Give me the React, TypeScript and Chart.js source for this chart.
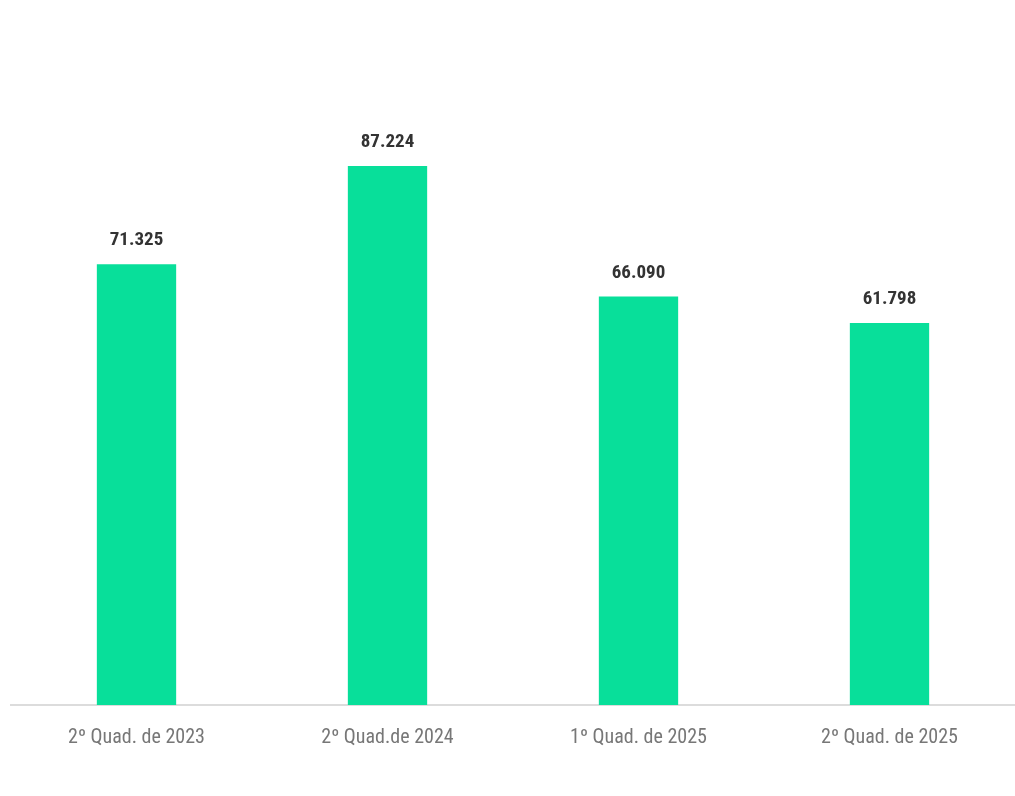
import React, { useEffect, useRef } from "react";
import { Chart, registerables } from "chart.js";

Chart.register(...registerables);

const categories = ["2º Quad. de 2023", "2º Quad.de 2024", "1º Quad. de 2025", "2º Quad. de 2025"];
const values = [71325, 87224, 66090, 61798];
const yMax = 100000;

const FONT = "'Liberation Sans Narrow', 'Roboto Condensed', Roboto, sans-serif";

const fmt = (v: number) => v.toString().replace(/\B(?=(\d{3})+(?!\d))/g, ".");

const valueLabels = {
  id: "valueLabels",
  afterDatasetsDraw(chart: any) {
    const ctx = chart.ctx;
    const meta = chart.getDatasetMeta(0);
    ctx.save();
    ctx.font = `bold 19px ${FONT}`;
    ctx.fillStyle = "#333333";
    ctx.textAlign = "center";
    ctx.textBaseline = "alphabetic";
    meta.data.forEach((bar: any, i: number) => {
      ctx.fillText(fmt(values[i]), bar.x, bar.y - 19);
    });
    ctx.restore();
  },
};

export default function App() {
  const ref = useRef<HTMLCanvasElement>(null);
  useEffect(() => {
    if (!ref.current) return;
    const chart = new Chart(ref.current, {
      type: "bar",
      data: {
        labels: categories,
        datasets: [
          {
            data: values,
            backgroundColor: "#08DF9A",
            borderWidth: 0,
            barPercentage: 0.316,
            categoryPercentage: 1,
          },
        ],
      },
      options: {
        animation: false,
        responsive: false,
        maintainAspectRatio: false,
        layout: { padding: { left: 11, right: 0, top: 87, bottom: 25 } },
        plugins: { legend: { display: false }, tooltip: { enabled: false } },
        scales: {
          y: { display: false, min: 0, max: yMax },
          x: {
            grid: { display: false, drawTicks: false },
            border: { display: true, color: "#dcdcdc", width: 2 },
            ticks: {
              color: "#777777",
              font: { family: FONT, size: 20 },
              padding: 21,
              maxRotation: 0,
              autoSkip: false,
            },
          },
        },
      },
      plugins: [valueLabels],
    });
    return () => chart.destroy();
  }, []);
  return (
    <div style={{ position: "fixed", left: 0, top: 0, width: 1015, height: 796, background: "#fff" }}>
      <canvas ref={ref} width={1015} height={796} style={{ width: 1015, height: 796, display: "block" }} />
    </div>
  );
}
